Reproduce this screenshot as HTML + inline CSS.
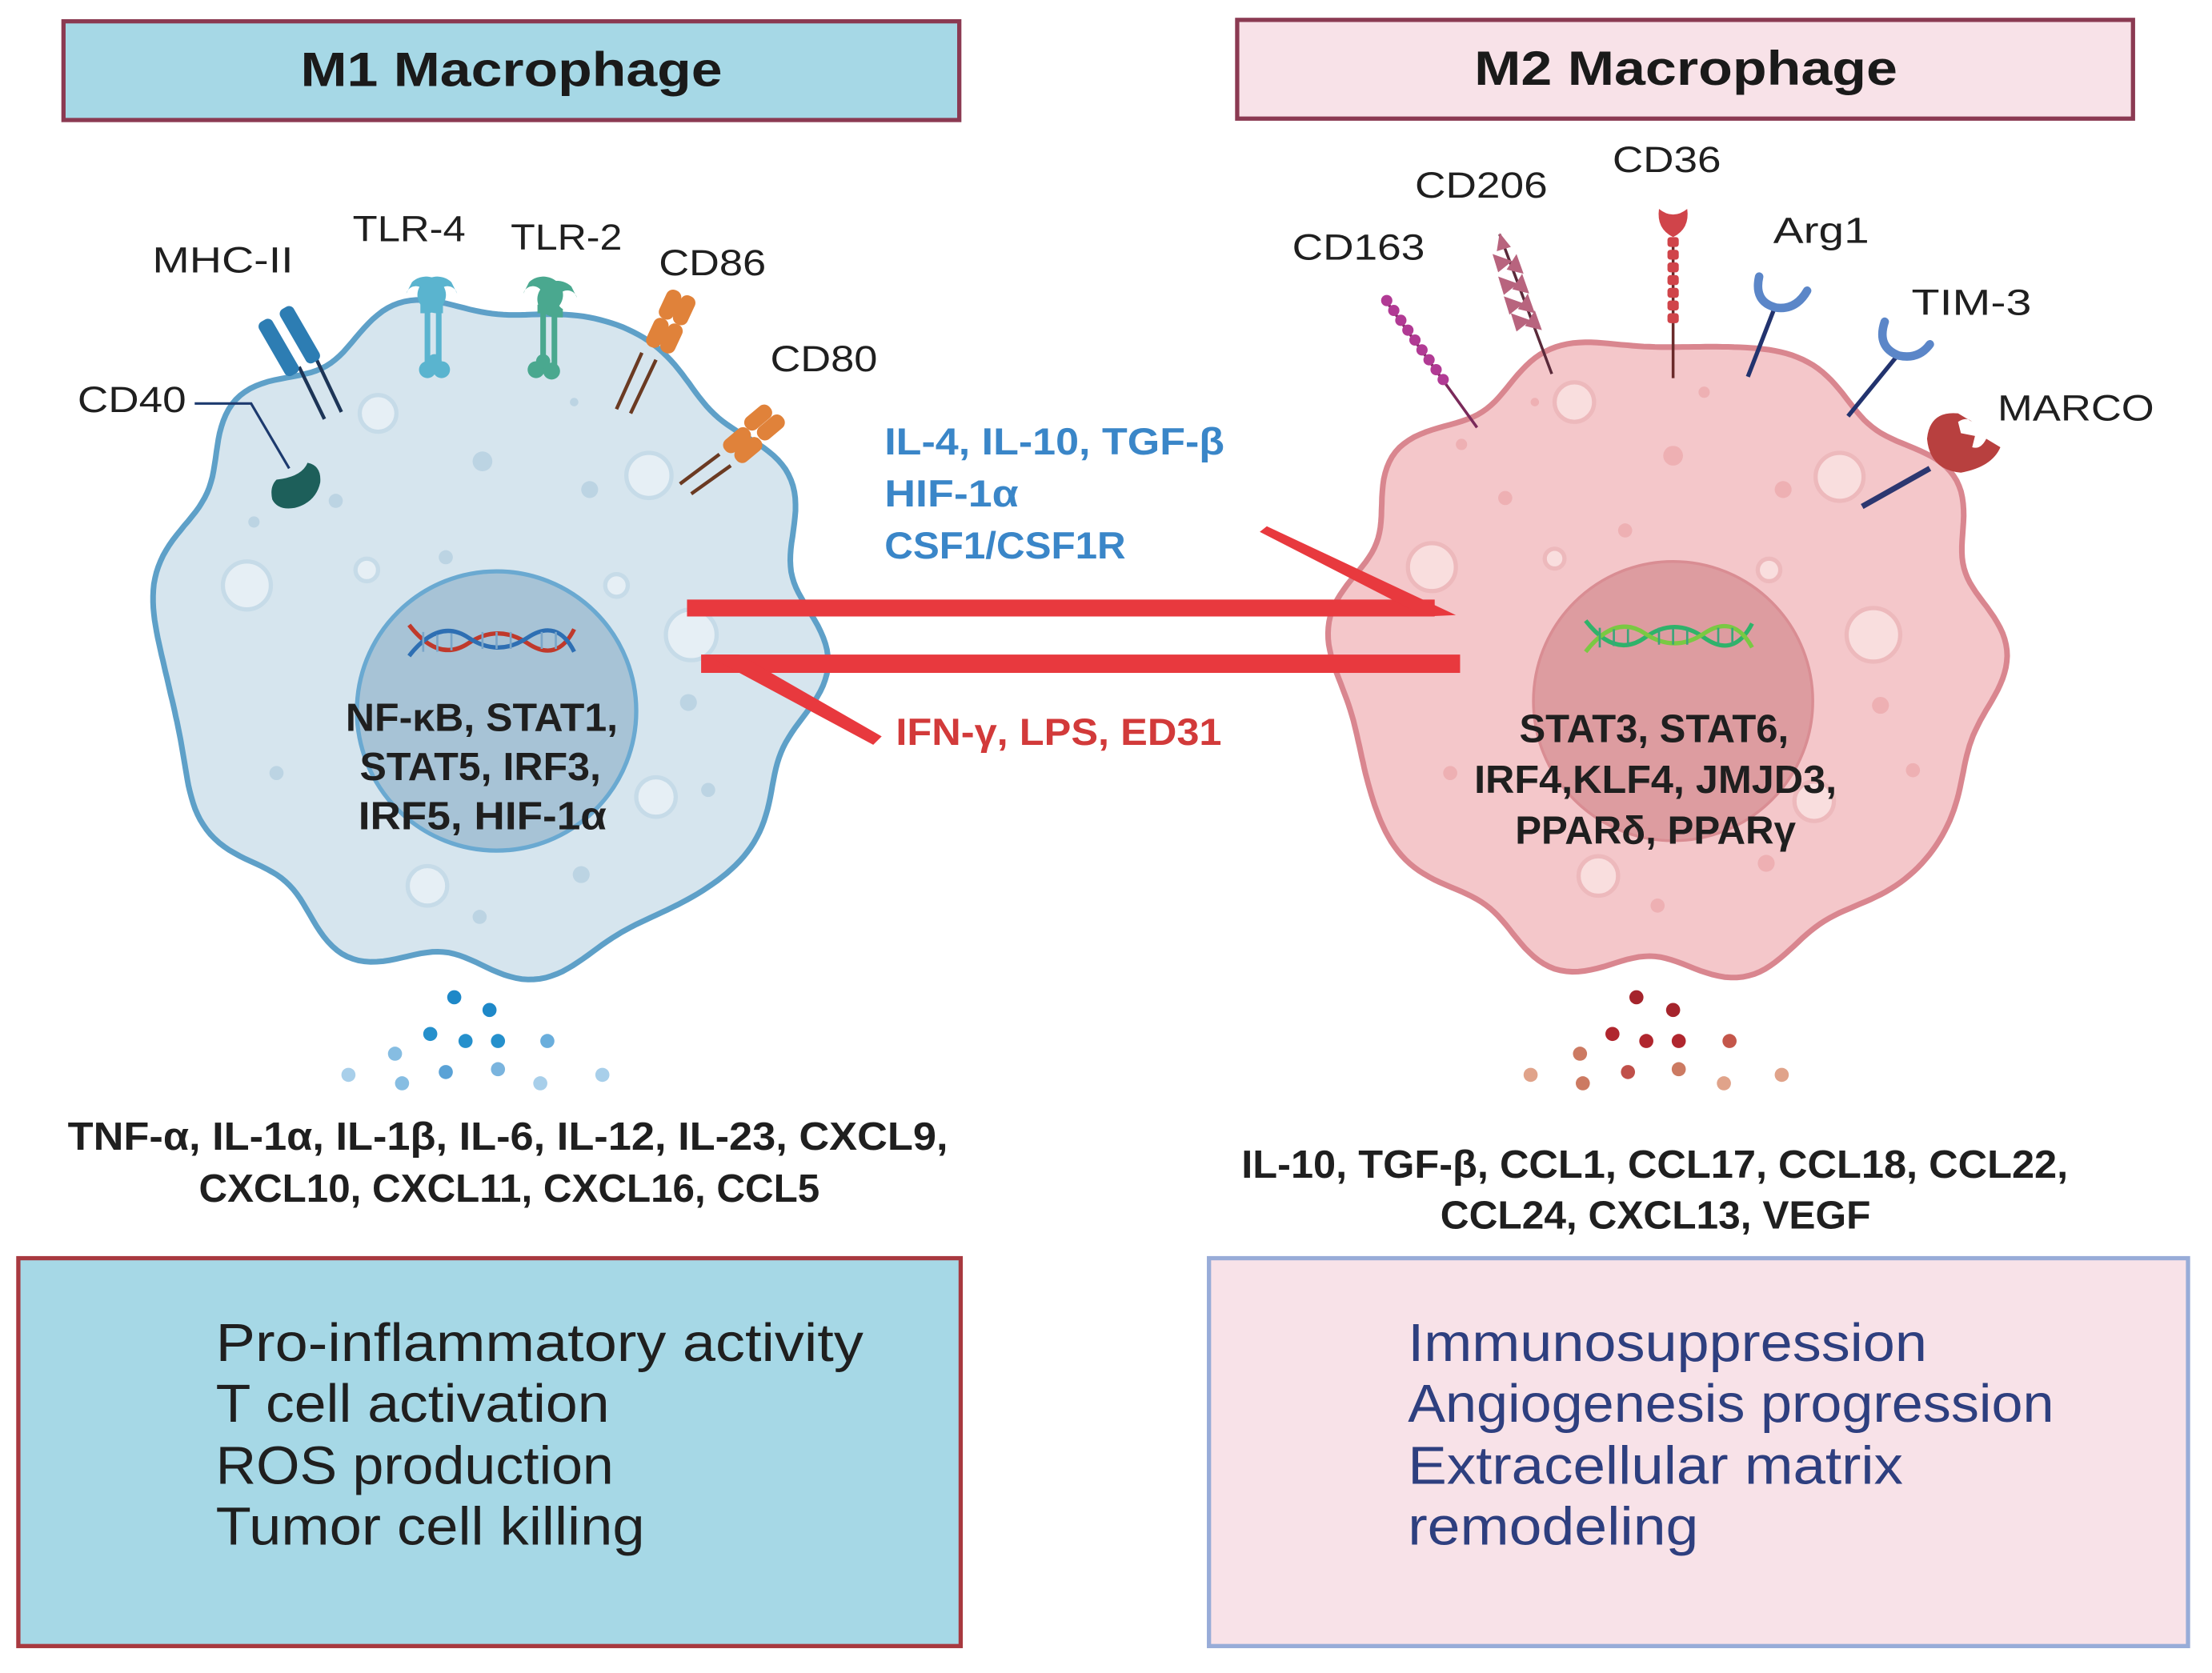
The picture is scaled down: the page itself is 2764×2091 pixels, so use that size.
<!DOCTYPE html>
<html><head><meta charset="utf-8">
<style>
html,body{margin:0;padding:0;background:#fff;}
svg{display:block;}
text{font-family:"Liberation Sans",sans-serif;}
</style></head>
<body>
<svg width="2764" height="2091" viewBox="0 0 1568 1186" xmlns="http://www.w3.org/2000/svg">
<!-- Title boxes -->
<rect x="45" y="15" width="635" height="70" fill="#a6d8e6" stroke="#8b3a52" stroke-width="3"/>
<text x="213" y="61" font-size="34" font-weight="bold" fill="#1a1a1a" textLength="299" lengthAdjust="spacingAndGlyphs">M1 Macrophage</text>
<rect x="877" y="14" width="635" height="70" fill="#f8e2e8" stroke="#8b3a52" stroke-width="3"/>
<text x="1045" y="60" font-size="34" font-weight="bold" fill="#1a1a1a" textLength="300" lengthAdjust="spacingAndGlyphs">M2 Macrophage</text>

<!-- Cells -->
<ellipse id="e1" cx="345" cy="450" rx="235" ry="240" fill="#d6e5ee" stroke="#5ea0c8" stroke-width="4"/>
<path id="c1" d="" fill="#d6e5ee" stroke="#5ea0c8" stroke-width="4"/>
<ellipse id="e2" cx="1181" cy="465" rx="235" ry="225" fill="#f4c7ca" stroke="#d9868f" stroke-width="4"/>
<path id="c2" d="" fill="#f4c7ca" stroke="#d9868f" stroke-width="4"/>

<!-- vesicles M1 -->
<g fill="#e6eff5" stroke="#c6dbe8" stroke-width="3">
<circle cx="268" cy="293" r="13"/><circle cx="460" cy="337" r="16"/><circle cx="175" cy="415" r="17"/>
<circle cx="260" cy="404" r="8"/><circle cx="437" cy="415" r="8"/><circle cx="490" cy="450" r="18"/>
<circle cx="465" cy="565" r="14"/><circle cx="303" cy="628" r="14"/>
</g>
<g fill="#bcd4e3">
<circle cx="342" cy="327" r="7"/><circle cx="418" cy="347" r="6"/><circle cx="238" cy="355" r="5"/>
<circle cx="316" cy="395" r="5"/><circle cx="180" cy="370" r="4"/><circle cx="488" cy="498" r="6"/>
<circle cx="196" cy="548" r="5"/><circle cx="502" cy="560" r="5"/><circle cx="412" cy="620" r="6"/>
<circle cx="340" cy="650" r="5"/><circle cx="407" cy="285" r="3"/><circle cx="310" cy="540" r="4"/>
</g>
<!-- vesicles M2 -->
<g fill="#f9dede" stroke="#edb9bc" stroke-width="3">
<circle cx="1116" cy="285" r="14"/><circle cx="1304" cy="338" r="17"/><circle cx="1015" cy="402" r="17"/>
<circle cx="1102" cy="396" r="7"/><circle cx="1254" cy="404" r="8"/><circle cx="1328" cy="450" r="19"/>
<circle cx="1286" cy="568" r="14"/><circle cx="1133" cy="621" r="14"/>
</g>
<g fill="#eeb0b3">
<circle cx="1186" cy="323" r="7"/><circle cx="1264" cy="347" r="6"/><circle cx="1067" cy="353" r="5"/>
<circle cx="1152" cy="376" r="5"/><circle cx="1036" cy="315" r="4"/><circle cx="1333" cy="500" r="6"/>
<circle cx="1028" cy="548" r="5"/><circle cx="1356" cy="546" r="5"/><circle cx="1252" cy="612" r="6"/>
<circle cx="1175" cy="642" r="5"/><circle cx="1208" cy="278" r="4"/><circle cx="1088" cy="285" r="3"/>
</g>

<!-- Nuclei -->
<circle cx="352" cy="504" r="99" fill="#a7c3d6" stroke="#6aa9d1" stroke-width="3"/>
<circle cx="1186" cy="497" r="99" fill="#dd9ca0" stroke="#d98d93" stroke-width="2"/>

<!-- DNA M1 -->
<g fill="none" stroke-width="3">
<path d="M290 443 Q311 470 332 456 T374 456 T407 446" stroke="#c0392b"/>
<path d="M290 465 Q311 438 332 452 T374 452 T407 462" stroke="#2e6fb3"/>
<g stroke="#7aa6c9" stroke-width="1.5"><path d="M300 448v14M310 450v12M320 449v12M342 448v12M352 448v12M362 448v12M384 448v12M394 448v12"/></g>
</g>
<!-- DNA M2 -->
<g fill="none" stroke-width="3">
<path d="M1124 440 Q1145 467 1166 452 T1208 452 T1242 442" stroke="#2fb36a"/>
<path d="M1124 462 Q1145 435 1166 449 T1208 449 T1242 459" stroke="#7ac943"/>
<g stroke="#3aa57a" stroke-width="1.5"><path d="M1134 445v14M1144 446v12M1154 446v12M1176 445v12M1186 445v12M1196 445v12M1218 445v12M1228 445v12"/></g>
</g>

<!-- nucleus text -->
<g font-size="28" font-weight="bold" fill="#1f1f1f">
<text x="245" y="518" textLength="193" lengthAdjust="spacingAndGlyphs">NF-κB, STAT1,</text>
<text x="255" y="553" textLength="171" lengthAdjust="spacingAndGlyphs">STAT5, IRF3,</text>
<text x="254" y="588" textLength="176" lengthAdjust="spacingAndGlyphs">IRF5, HIF-1α</text>
<text x="1077" y="526" textLength="191" lengthAdjust="spacingAndGlyphs">STAT3, STAT6,</text>
<text x="1045" y="562" textLength="257" lengthAdjust="spacingAndGlyphs">IRF4,KLF4, JMJD3,</text>
<text x="1074" y="598" textLength="199" lengthAdjust="spacingAndGlyphs">PPARδ, PPARγ</text>
</g>

<!-- M1 receptors -->
<!-- MHC-II -->
<g>
<line x1="212" y1="260" x2="230" y2="297" stroke="#1d3557" stroke-width="2.5"/>
<line x1="224" y1="254" x2="242" y2="292" stroke="#1d3557" stroke-width="2.5"/>
<rect x="-6" y="-22" width="11" height="44" rx="4" fill="#2d7db3" transform="translate(198,246) rotate(-30)"/>
<rect x="-6" y="-22" width="11" height="44" rx="4" fill="#2d7db3" transform="translate(213,237) rotate(-30)"/>
</g>
<!-- TLR-4 -->
<g fill="#5ab4cf">
<path d="M292 200 a14 13 0 1 1 10 22 l-4 0 0 -6 a7 7 0 1 0 -10 -8 z"/>
<path d="M320 200 a14 13 0 1 0 -10 22 l4 0 0 -6 a7 7 0 1 1 10 -8 z"/>
<rect x="301" y="216" width="4" height="42"/><rect x="309" y="216" width="4" height="42"/>
<circle cx="303" cy="262" r="6"/><circle cx="313" cy="262" r="6"/><circle cx="308" cy="256" r="5"/>
</g>
<!-- TLR-2 -->
<g fill="#4aa88f">
<path d="M375 200 a14 13 0 1 1 10 22 l-4 0 0 -6 a7 7 0 1 0 -10 -8 z"/>
<path d="M405 203 a14 13 0 1 0 -10 22 l4 0 0 -6 a7 7 0 1 1 10 -8 z"/>
<rect x="383" y="218" width="4" height="42"/><rect x="391" y="218" width="4" height="42"/>
<circle cx="380" cy="262" r="6"/><circle cx="391" cy="263" r="6"/><circle cx="385" cy="256" r="5"/>
</g>
<!-- CD86 -->
<g>
<line x1="455" y1="250" x2="437" y2="290" stroke="#6b3a22" stroke-width="2.5"/>
<line x1="465" y1="255" x2="447" y2="293" stroke="#6b3a22" stroke-width="2.5"/>
<g fill="#e0823a">
<rect x="-6" y="-12" width="11" height="22" rx="5" transform="translate(466,237) rotate(25)"/>
<rect x="-6" y="-12" width="11" height="22" rx="5" transform="translate(476,241) rotate(25)"/>
<rect x="-6" y="-12" width="11" height="22" rx="5" transform="translate(475,217) rotate(25)"/>
<rect x="-6" y="-12" width="11" height="22" rx="5" transform="translate(485,221) rotate(25)"/>
</g></g>
<!-- CD80 -->
<g>
<line x1="510" y1="322" x2="482" y2="343" stroke="#6b3a22" stroke-width="2.5"/>
<line x1="518" y1="330" x2="490" y2="350" stroke="#6b3a22" stroke-width="2.5"/>
<g fill="#e0823a">
<rect x="-6" y="-12" width="11" height="22" rx="5" transform="translate(522,313) rotate(50)"/>
<rect x="-6" y="-12" width="11" height="22" rx="5" transform="translate(530,320) rotate(50)"/>
<rect x="-6" y="-12" width="11" height="22" rx="5" transform="translate(537,297) rotate(50)"/>
<rect x="-6" y="-12" width="11" height="22" rx="5" transform="translate(546,304) rotate(50)"/>
</g></g>
<!-- CD40 -->
<polyline points="138,286 178,286 205,332" fill="none" stroke="#1d3a6e" stroke-width="1.8"/>
<path d="M196 340 q18 -2 22 -12 q10 2 9 14 q-3 14 -18 18 q-12 2 -16 -6 q-2 -9 3 -14z" fill="#1d5f5a"/>

<!-- M2 receptors -->
<!-- CD163 -->
<line x1="983" y1="214" x2="1047" y2="303" stroke="#7a2a5a" stroke-width="2"/>
<g fill="#b13a94">
<circle cx="983" cy="213" r="4"/><circle cx="988" cy="220" r="4"/><circle cx="993" cy="227" r="4"/><circle cx="998" cy="234" r="4"/>
<circle cx="1003" cy="241" r="4"/><circle cx="1008" cy="248" r="4"/><circle cx="1013" cy="255" r="4"/><circle cx="1018" cy="262" r="4"/><circle cx="1023" cy="269" r="4"/>
</g>
<!-- CD206 -->
<line x1="1063" y1="166" x2="1100" y2="265" stroke="#5a2a3a" stroke-width="2"/>
<g fill="#b8647e">
<path d="M1063 165 l8 10 -10 3z"/><path d="M1058 180 l14 5 -10 8z"/><path d="M1075 180 l5 14 -12 -3z"/>
<path d="M1062 196 l14 5 -10 8z"/><path d="M1079 194 l5 14 -12 -3z"/><path d="M1066 210 l14 5 -10 8z"/>
<path d="M1083 208 l5 14 -12 -3z"/><path d="M1071 222 l14 5 -10 8z"/><path d="M1088 220 l5 14 -12 -3z"/>
</g>
<!-- CD36 -->
<line x1="1186" y1="170" x2="1186" y2="268" stroke="#6a2a2a" stroke-width="2"/>
<g fill="#d0444a">
<path d="M1176 148 q10 8 20 0 q2 14 -10 20 q-12 -6 -10 -20z"/>
<rect x="1182" y="168" width="8" height="7" rx="2"/><rect x="1182" y="177" width="8" height="7" rx="2"/>
<rect x="1182" y="186" width="8" height="7" rx="2"/><rect x="1182" y="195" width="8" height="7" rx="2"/>
<rect x="1182" y="204" width="8" height="7" rx="2"/><rect x="1182" y="213" width="8" height="7" rx="2"/>
<rect x="1182" y="222" width="8" height="7" rx="2"/>
</g>
<!-- Arg1 -->
<line x1="1258" y1="218" x2="1239" y2="267" stroke="#22336e" stroke-width="3"/>
<path d="M1247 196 q-4 18 12 22 q14 2 22 -12" fill="none" stroke="#5b86c8" stroke-width="6" stroke-linecap="round"/>
<!-- TIM-3 -->
<line x1="1345" y1="252" x2="1310" y2="295" stroke="#22336e" stroke-width="3"/>
<path d="M1336 228 q-6 18 10 24 q14 3 22 -8" fill="none" stroke="#5b86c8" stroke-width="6" stroke-linecap="round"/>
<!-- MARCO -->
<line x1="1368" y1="332" x2="1320" y2="359" stroke="#2c3770" stroke-width="4"/>
<path d="M1388 293 q-20 -2 -22 18 q2 22 24 24 q22 -4 28 -18 l-10 -6 q-4 8 -10 6 l2 -8 -10 -2 -2 -8 q6 -4 10 0z" fill="#b8403f"/>

<!-- receptor labels -->
<g font-size="26" fill="#1f1f1f">
<text x="108" y="193" textLength="100" lengthAdjust="spacingAndGlyphs">MHC-II</text>
<text x="250" y="171" textLength="80" lengthAdjust="spacingAndGlyphs">TLR-4</text>
<text x="362" y="177" textLength="79" lengthAdjust="spacingAndGlyphs">TLR-2</text>
<text x="467" y="195" textLength="76" lengthAdjust="spacingAndGlyphs">CD86</text>
<text x="546" y="263" textLength="76" lengthAdjust="spacingAndGlyphs">CD80</text>
<text x="55" y="292" textLength="77" lengthAdjust="spacingAndGlyphs">CD40</text>
<text x="916" y="184" textLength="94" lengthAdjust="spacingAndGlyphs">CD163</text>
<text x="1003" y="140" textLength="94" lengthAdjust="spacingAndGlyphs">CD206</text>
<text x="1143" y="122" textLength="77" lengthAdjust="spacingAndGlyphs">CD36</text>
<text x="1257" y="172" textLength="68" lengthAdjust="spacingAndGlyphs">Arg1</text>
<text x="1355" y="223" textLength="85" lengthAdjust="spacingAndGlyphs">TIM-3</text>
<text x="1416" y="298" textLength="111" lengthAdjust="spacingAndGlyphs">MARCO</text>
</g>

<!-- Arrows -->
<g fill="#e8393e">
<rect x="487" y="425" width="530" height="12"/>
<polygon points="893,377 898,373 1032,436 1010,437"/>
<rect x="497" y="464" width="538" height="13"/>
<polygon points="500,464 524,464 625,522 619,528"/>
</g>
<g font-size="27" font-weight="bold" fill="#3a86c8">
<text x="627" y="322" textLength="241" lengthAdjust="spacingAndGlyphs">IL-4, IL-10, TGF-β</text>
<text x="627" y="359" textLength="95" lengthAdjust="spacingAndGlyphs">HIF-1α</text>
<text x="627" y="396" textLength="171" lengthAdjust="spacingAndGlyphs">CSF1/CSF1R</text>
</g>
<text x="635" y="528" font-size="27" font-weight="bold" fill="#d23a3a" textLength="231" lengthAdjust="spacingAndGlyphs">IFN-γ, LPS, ED31</text>

<!-- cytokine dots M1 -->
<g>
<circle cx="322" cy="707" r="5" fill="#1e88c8"/><circle cx="347" cy="716" r="5" fill="#1e88c8"/>
<circle cx="305" cy="733" r="5" fill="#2590cc"/><circle cx="330" cy="738" r="5" fill="#2590cc"/><circle cx="353" cy="738" r="5" fill="#2590cc"/>
<circle cx="388" cy="738" r="5" fill="#6aaedc"/><circle cx="280" cy="747" r="5" fill="#86bde2"/>
<circle cx="316" cy="760" r="5" fill="#5aa2d6"/><circle cx="353" cy="758" r="5" fill="#7ab4de"/>
<circle cx="247" cy="762" r="5" fill="#a8cfea"/><circle cx="285" cy="768" r="5" fill="#86bde2"/>
<circle cx="383" cy="768" r="5" fill="#a8cfea"/><circle cx="427" cy="762" r="5" fill="#a8cfea"/>
</g>
<!-- cytokine dots M2 -->
<g>
<circle cx="1160" cy="707" r="5" fill="#a5242c"/><circle cx="1186" cy="716" r="5" fill="#a5242c"/>
<circle cx="1143" cy="733" r="5" fill="#b0262e"/><circle cx="1167" cy="738" r="5" fill="#b0262e"/><circle cx="1190" cy="738" r="5" fill="#b0262e"/>
<circle cx="1226" cy="738" r="5" fill="#c4564a"/><circle cx="1120" cy="747" r="5" fill="#cc7a62"/>
<circle cx="1154" cy="760" r="5" fill="#c0504a"/><circle cx="1190" cy="758" r="5" fill="#cc7a62"/>
<circle cx="1085" cy="762" r="5" fill="#e0a38a"/><circle cx="1122" cy="768" r="5" fill="#cc7a62"/>
<circle cx="1222" cy="768" r="5" fill="#e0a38a"/><circle cx="1263" cy="762" r="5" fill="#e0a38a"/>
</g>

<!-- cytokine text -->
<g font-size="28" font-weight="bold" fill="#1f1f1f">
<text x="48" y="815" textLength="624" lengthAdjust="spacingAndGlyphs">TNF-α, IL-1α, IL-1β, IL-6, IL-12, IL-23, CXCL9,</text>
<text x="141" y="852" textLength="440" lengthAdjust="spacingAndGlyphs">CXCL10, CXCL11, CXCL16, CCL5</text>
<text x="880" y="835" textLength="586" lengthAdjust="spacingAndGlyphs">IL-10, TGF-β, CCL1, CCL17, CCL18, CCL22,</text>
<text x="1021" y="871" textLength="305" lengthAdjust="spacingAndGlyphs">CCL24, CXCL13, VEGF</text>
</g>

<!-- Bottom boxes -->
<rect x="13" y="892" width="668" height="275" fill="#a6d8e6" stroke="#a8393f" stroke-width="3"/>
<g font-size="38" fill="#1f1f1f">
<text x="153" y="965" textLength="459" lengthAdjust="spacingAndGlyphs">Pro-inflammatory activity</text>
<text x="153" y="1008" textLength="279" lengthAdjust="spacingAndGlyphs">T cell activation</text>
<text x="153" y="1052" textLength="282" lengthAdjust="spacingAndGlyphs">ROS production</text>
<text x="153" y="1095" textLength="304" lengthAdjust="spacingAndGlyphs">Tumor cell killing</text>
</g>
<rect x="857" y="892" width="694" height="275" fill="#f8e2e8" stroke="#98acd8" stroke-width="3"/>
<g font-size="38" fill="#2e3f7f">
<text x="998" y="965" textLength="368" lengthAdjust="spacingAndGlyphs">Immunosuppression</text>
<text x="998" y="1008" textLength="458" lengthAdjust="spacingAndGlyphs">Angiogenesis progression</text>
<text x="998" y="1052" textLength="351" lengthAdjust="spacingAndGlyphs">Extracellular matrix</text>
<text x="998" y="1095" textLength="206" lengthAdjust="spacingAndGlyphs">remodeling</text>
</g>
</svg>
<script>
function wavy(cx,cy,rx,ry,n,amp,ph){
  var d="",N=360;
  for(var i=0;i<=N;i++){
    var t=i/N*2*Math.PI;
    var f=1+amp*Math.sin(n*t+ph)+amp*0.4*Math.sin((n+3)*t+ph*2);
    var x=cx+rx*f*Math.cos(t), y=cy+ry*f*Math.sin(t);
    d+=(i?"L":"M")+x.toFixed(1)+" "+y.toFixed(1);
  }
  return d+"Z";
}
try{
document.getElementById("c1").setAttribute("d",wavy(345,452,232,236,10,0.035,0.5));
document.getElementById("c2").setAttribute("d",wavy(1181,465,232,224,10,0.035,1.2));
var a=document.getElementById("e1");a.parentNode.removeChild(a);
var b=document.getElementById("e2");b.parentNode.removeChild(b);
}catch(e){}
</script>
</body></html>
